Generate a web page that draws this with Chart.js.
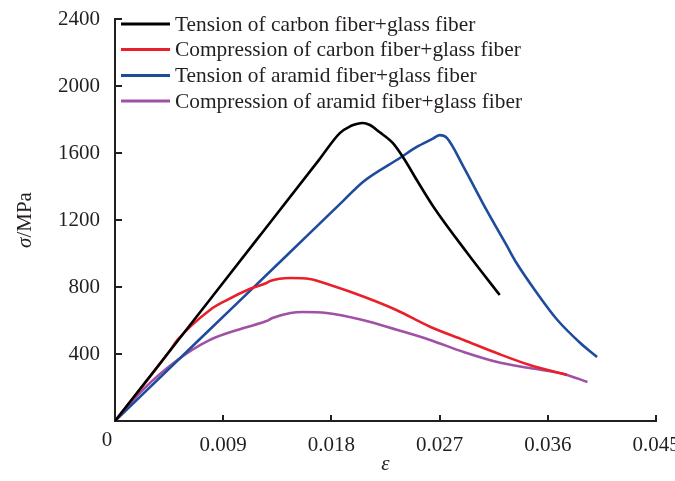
<!DOCTYPE html>
<html>
<head>
<meta charset="utf-8">
<script src="https://cdn.jsdelivr.net/npm/chart.js@4/dist/chart.umd.min.js"></script>
<style>
  html, body { margin: 0; padding: 0; background: #fff; }
  #wrap { width: 675px; height: 481px; position: relative; }
</style>
</head>
<body>
<div id="wrap"><canvas id="c" width="675" height="481"></canvas></div>
<script>
// ---- Data (strain ε, stress σ in MPa) ----
const seriesLabels = [
  "Tension of carbon fiber+glass fiber",
  "Compression of carbon fiber+glass fiber",
  "Tension of aramid fiber+glass fiber",
  "Compression of aramid fiber+glass fiber"
];
const tensionCarbonX = [0, 0.0060, 0.0120, 0.0170, 0.0187, 0.0196, 0.0201, 0.0206, 0.0212, 0.0220, 0.0231, 0.0240, 0.0251, 0.0265, 0.0293, 0.0320];
const tensionCarbonY = [0, 551, 1102, 1562, 1719, 1761, 1773, 1779, 1767, 1725, 1660, 1570, 1439, 1278, 1003, 752];

const compCarbonX = [0, 0.0045, 0.0052, 0.0079, 0.0093, 0.0112, 0.0126, 0.0129, 0.0146, 0.0162, 0.0179, 0.0207, 0.0234, 0.0262, 0.0290, 0.0318, 0.0345, 0.0376];
const compCarbonY = [0, 413, 484, 663, 722, 788, 824, 836, 854, 848, 812, 742, 663, 563, 484, 404, 334, 275];

const tensionAramidX = [0, 0.0070, 0.0140, 0.0190, 0.0206, 0.0237, 0.0251, 0.0264, 0.0270, 0.0276, 0.0290, 0.0309, 0.0326, 0.0334, 0.0351, 0.0368, 0.0387, 0.0401];
const tensionAramidY = [0, 485, 969, 1316, 1426, 1570, 1636, 1684, 1707, 1690, 1516, 1260, 1045, 943, 764, 603, 466, 382];

const compAramidX = [0, 0.0023, 0.0052, 0.0079, 0.0107, 0.0126, 0.0131, 0.0146, 0.0156, 0.0176, 0.0206, 0.0235, 0.0262, 0.0290, 0.0318, 0.0345, 0.0373, 0.0393];
const compAramidY = [0, 185, 364, 484, 555, 597, 615, 645, 651, 645, 603, 543, 484, 412, 352, 316, 281, 233];

const xTickValues = [0, 0.009, 0.018, 0.027, 0.036, 0.045];
const xTickLabels = ["0", "0.009", "0.018", "0.027", "0.036", "0.045"];
const yTickValues = [0, 400, 800, 1200, 1600, 2000, 2400];
const yTickLabels = ["", "400", "800", "1200", "1600", "2000", "2400"];

const colors = ["#000000", "#e8202a", "#1e4c9c", "#a050a5"];

function pts(xs, ys) { return xs.map((x, i) => ({ x: x, y: ys[i] })); }

const FONT = "'Liberation Serif', 'Times New Roman', serif";
const AXIS_COLOR = "#231f20";

const datasets = [
  pts(tensionCarbonX, tensionCarbonY),
  pts(compCarbonX, compCarbonY),
  pts(tensionAramidX, tensionAramidY),
  pts(compAramidX, compAramidY)
].map((d, i) => ({
  label: seriesLabels[i],
  data: d,
  borderColor: colors[i],
  backgroundColor: colors[i],
  borderWidth: 2.6,
  pointRadius: 0,
  fill: false,
  cubicInterpolationMode: 'monotone'
}));

const decorPlugin = {
  id: 'decor',
  afterDraw(chart) {
    const ctx = chart.ctx;
    const xs = chart.scales.x, ys = chart.scales.y;
    ctx.save();
    // inward ticks
    ctx.strokeStyle = AXIS_COLOR;
    ctx.lineWidth = 2;
    xTickValues.forEach(v => {
      if (v === 0) return;
      const px = Math.round(xs.getPixelForValue(v));
      ctx.beginPath(); ctx.moveTo(px, ys.bottom); ctx.lineTo(px, ys.bottom - 6); ctx.stroke();
    });
    yTickValues.forEach(v => {
      if (v === 0) return;
      const py = Math.round(ys.getPixelForValue(v));
      ctx.beginPath(); ctx.moveTo(xs.left, py); ctx.lineTo(xs.left + 7, py); ctx.stroke();
    });
    // origin "0"
    ctx.fillStyle = "#231f20";
    ctx.font = "21px " + FONT;
    ctx.textAlign = "center";
    ctx.textBaseline = "middle";
    ctx.fillText("0", xs.left - 8, ys.bottom + 19);
    // x title
    ctx.font = "italic 21px " + FONT;
    ctx.fillText("ε", (xs.left + xs.right) / 2, 464);
    // y title with italic sigma
    ctx.translate(25, (ys.top + ys.bottom) / 2);
    ctx.rotate(-Math.PI / 2);
    ctx.textAlign = "left";
    const f1 = "italic 21px " + FONT, f2 = "21px " + FONT;
    ctx.font = f1; const w1 = ctx.measureText("σ").width;
    ctx.font = f2; const w2 = ctx.measureText("/MPa").width;
    const start = -(w1 + w2) / 2;
    ctx.font = f1; ctx.fillText("σ", start, 0);
    ctx.font = f2; ctx.fillText("/MPa", start + w1, 0);
    ctx.restore();
    // legend
    ctx.save();
    const rowY = [24, 49.5, 75.5, 101];
    chart.data.datasets.forEach((ds, i) => {
      ctx.strokeStyle = ds.borderColor;
      ctx.lineWidth = 3;
      ctx.beginPath(); ctx.moveTo(121, rowY[i]); ctx.lineTo(170, rowY[i]); ctx.stroke();
      ctx.fillStyle = "#231f20";
      ctx.font = "21.4px " + FONT;
      ctx.textAlign = "left";
      ctx.textBaseline = "middle";
      ctx.fillText(ds.label, 175, rowY[i] + 1);
    });
    ctx.restore();
  }
};

new Chart(document.getElementById('c'), {
  type: 'line',
  data: { datasets: datasets },
  plugins: [decorPlugin],
  options: {
    responsive: false,
    animation: false,
    layout: { padding: { top: 19, right: 19, left: 0, bottom: 0 } },
    plugins: { legend: { display: false }, tooltip: { enabled: false }, title: { display: false } },
    scales: {
      x: {
        type: 'linear',
        min: 0, max: 0.045,
        afterBuildTicks(scale) { scale.ticks = xTickValues.map(v => ({ value: v })); },
        afterFit(scale) { scale.height = 60; scale.paddingRight = 0; scale.paddingLeft = 0; },
        grid: { display: true, drawOnChartArea: false, drawTicks: false, tickLength: 0 },
        border: { display: true, color: AXIS_COLOR, width: 2 },
        ticks: {
          padding: 12,
          color: "#231f20",
          font: { family: FONT, size: 21 },
          maxRotation: 0,
          autoSkip: false,
          callback(value, index) { return index === 0 ? "" : xTickLabels[index]; }
        }
      },
      y: {
        type: 'linear',
        min: 0, max: 2400,
        afterBuildTicks(scale) { scale.ticks = yTickValues.map(v => ({ value: v })); },
        afterFit(scale) { scale.width = 115; scale.paddingTop = 0; scale.paddingBottom = 0; },
        grid: { display: true, drawOnChartArea: false, drawTicks: false, tickLength: 0 },
        border: { display: true, color: AXIS_COLOR, width: 2 },
        ticks: {
          padding: 15,
          color: "#231f20",
          font: { family: FONT, size: 21 },
          autoSkip: false,
          callback(value, index) { return yTickLabels[index]; }
        }
      }
    }
  }
});
</script>
</body>
</html>
